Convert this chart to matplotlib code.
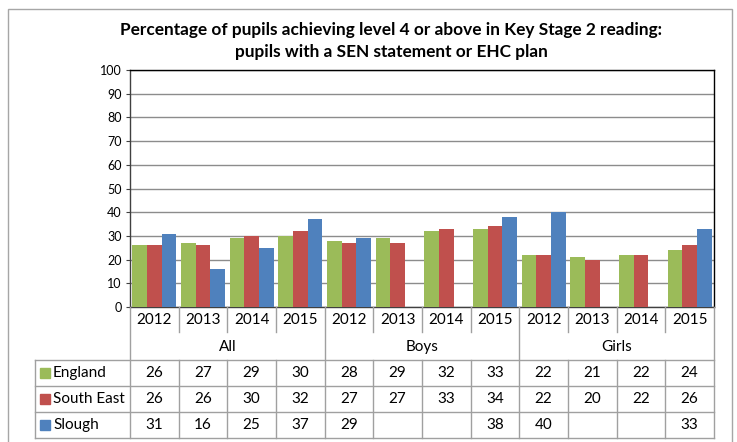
import matplotlib.pyplot as plt
import numpy as np

plt.rcParams['font.family'] = ['Lato', 'DejaVu Sans']

years = ['2012', '2013', '2014', '2015'] * 3
groups = ['All', 'Boys', 'Girls']
series = ['England', 'South East', 'Slough']
england = [26, 27, 29, 30, 28, 29, 32, 33, 22, 21, 22, 24]
south_east = [26, 26, 30, 32, 27, 27, 33, 34, 22, 20, 22, 26]
slough = [31, 16, 25, 37, 29, np.nan, np.nan, 38, 40, np.nan, np.nan, 33]
colors = ['#9BBB59', '#C0504D', '#4F81BD']

W, H = 737, 442
fig = plt.figure(figsize=(W / 100, H / 100), dpi=100)

# outer chart frame
fig.add_artist(plt.Rectangle((8 / W, -0.01), 724 / W, (442 - 9) / H + 0.01,
                             transform=fig.transFigure, fill=False,
                             edgecolor='#A6A6A6', lw=1))

left, right, top, bottom = 130, 714, 70, 307
ax = fig.add_axes([left / W, 1 - bottom / H, (right - left) / W, (bottom - top) / H])

x = np.arange(len(years))
bw = 0.3
for i, (vals, c) in enumerate(zip([england, south_east, slough], colors)):
    ax.bar(x + (i - 1) * bw, vals, bw, color=c, zorder=3)

ax.set_xlim(-0.5, len(years) - 0.5)
ax.set_ylim(0, 100)
ax.set_yticks(range(0, 101, 10))
ax.yaxis.grid(True, color='#8C8C8C', lw=1, zorder=0)
ax.set_xticks([])
ax.tick_params(axis='y', length=3, labelsize=9, pad=3, color='#404040')
for s in ax.spines.values():
    s.set_color('black')
    s.set_linewidth(1)
ax.spines['left'].set_color('#404040')
ax.spines['bottom'].set_color('#404040')

fig.text(*(391 / W, 1 - 30 / H), 'Percentage of pupils achieving level 4 or above in Key Stage 2 reading:',
         ha='center', va='center', fontsize=12.4, fontweight='bold')
fig.text(*(391 / W, 1 - 52 / H), 'pupils with a SEN statement or EHC plan',
         ha='center', va='center', fontsize=12.4, fontweight='bold')

# data table below the axes, drawn in pixel-like coordinates
cw = (right - left) / len(years)
lc = '#A0A0A0'


def px(xp, yp):
    return xp / W, 1 - yp / H


def hline(y, x0, x1):
    fig.add_artist(plt.Line2D([x0 / W, x1 / W], [1 - y / H, 1 - y / H],
                              color=lc, lw=1, transform=fig.transFigure))


def vline(xp, y0, y1):
    fig.add_artist(plt.Line2D([xp / W, xp / W], [1 - y0 / H, 1 - y1 / H],
                              color=lc, lw=1, transform=fig.transFigure))


row_year = (307, 334)
row_group = (334, 360)
rows = [(360, 386), (386, 412), (412, 438)]
leg_left = 35
fs = 11

for k in range(len(years)):
    cx = left + (k + 0.5) * cw
    fig.text(*px(cx, sum(row_year) / 2), years[k], ha='center', va='center', fontsize=fs)
    if k > 0 and k % 4 != 0:
        vline(left + k * cw, row_year[0], row_year[1] - 2)
for g, name in enumerate(groups):
    cx = left + (g * 4 + 2) * cw
    fig.text(*px(cx, sum(row_group) / 2), name, ha='center', va='center', fontsize=fs)

for xp in [left + g * 4 * cw for g in range(4)]:
    vline(xp, 307, rows[-1][1])
for k in range(1, len(years)):
    if k % 4 != 0:
        vline(left + k * cw, rows[0][0], rows[-1][1])
vline(leg_left, rows[0][0], rows[-1][1])
for y in [rows[0][0]] + [r[1] for r in rows]:
    hline(y, leg_left, right)

for (y0, y1), name, vals, c in zip(rows, series, [england, south_east, slough], colors):
    yc = (y0 + y1) / 2
    fig.add_artist(plt.Rectangle((40 / W, 1 - (yc + 5) / H), 10 / W, 10 / H,
                                 transform=fig.transFigure, color=c))
    fig.text(*px(53, yc), name, ha='left', va='center', fontsize=fs)
    for k, v in enumerate(vals):
        if not np.isnan(v):
            fig.text(*px(left + (k + 0.5) * cw, yc), str(int(v)),
                     ha='center', va='center', fontsize=fs)

fig.savefig('out.png', dpi=100)
